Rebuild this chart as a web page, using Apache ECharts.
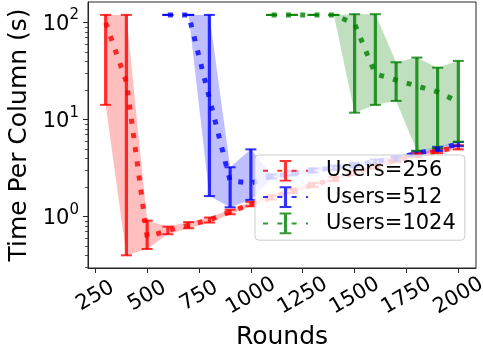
<!DOCTYPE html>
<html>
<head>
<meta charset="utf-8">
<script src="https://cdn.jsdelivr.net/npm/echarts@6/dist/echarts.min.js"></script>
<style>
  html, body { margin: 0; padding: 0; background: #ffffff; }
  #chart { width: 483px; height: 354px; }
</style>
</head>
<body>
<div id="chart"></div>
<script>
// Users = 256
const rounds256 = [300, 400, 500, 600, 700, 800, 900, 1000, 1100, 1200, 1300, 1400, 1500, 1600, 1700, 1800, 1900, 2000];
const mean256   = [100, 24.5, 0.62, 0.72, 0.82, 0.925, 1.12, 1.35, 1.58, 1.84, 2.12, 2.45, 2.85, 3.3, 3.84, 4.3, 4.75, 5.2];
const low256    = [14.2, 0.40, 0.465, 0.66, 0.76, 0.87, 1.06, 1.28, 1.5, 1.75, 2.02, 2.33, 2.71, 3.14, 3.65, 4.09, 4.51, 4.94];
const high256   = [120, 120, 0.91, 0.79, 0.88, 0.98, 1.18, 1.42, 1.66, 1.93, 2.23, 2.57, 2.99, 3.47, 4.03, 4.52, 4.99, 5.46];

// Users = 512
const rounds512 = [600, 700, 800, 900, 1000, 1100, 1200, 1300, 1400, 1500, 1600, 1700, 1800, 1900, 2000];
const mean512   = [120, 120, 16.7, 2.33, 2.22, 2.6, 2.8, 3.0, 3.2, 3.4, 3.7, 4.0, 4.5, 5.0, 5.6];
const low512    = [120, 120, 1.63, 1.25, 1.49, 2.47, 2.66, 2.85, 3.04, 3.23, 3.52, 3.8, 4.28, 4.75, 5.32];
const high512   = [120, 120, 120, 3.23, 4.94, 2.73, 2.94, 3.15, 3.36, 3.57, 3.89, 4.2, 4.73, 5.25, 5.88];

// Users = 1024
const rounds1024 = [1100, 1200, 1300, 1400, 1500, 1600, 1700, 1800, 1900, 2000];
const mean1024   = [120, 120, 120, 120, 97, 29.6, 25.6, 22.2, 19.3, 15.3];
const low1024    = [120, 120, 120, 120, 11.8, 14.2, 15.6, 4.78, 5.07, 5.93];
const high1024   = [120, 120, 120, 120, 122, 122, 39, 43.6, 34.3, 40.3];

const seriesNames = ['Users=256', 'Users=512', 'Users=1024'];

// Axis ticks
const xTicks = [250, 500, 750, 1000, 1250, 1500, 1750, 2000];
const yTicks = [1, 10, 100];
const yMinorTicks = [0.3, 0.4, 0.5, 0.6, 0.7, 0.8, 0.9, 2, 3, 4, 5, 6, 7, 8, 9, 20, 30, 40, 50, 60, 70, 80, 90];

const X_MIN = 215, X_MAX = 2085;
const Y_MIN = 0.296, Y_MAX = 163;

const FONT = 'DejaVu Sans';
const INK = '#262626';

// Error-bar glyph used as the legend marker (22x22 box, bar in the middle)
const BAR_GLYPH = 'path://M0,0 M22,22 M5,0 H17 V2 H12.6 V20 H17 V22 H5 V20 H9.4 V2 H5 Z';

function bandRenderer(xs, lo, hi, fill) {
  return function (params, api) {
    if (params.dataIndex !== 0) return null;
    const pts = [];
    for (let i = 0; i < xs.length; i++) pts.push(api.coord([xs[i], hi[i]]));
    for (let i = xs.length - 1; i >= 0; i--) pts.push(api.coord([xs[i], lo[i]]));
    return { type: 'polygon', shape: { points: pts }, style: { fill: fill } };
  };
}

function errorBarRenderer(color) {
  return function (params, api) {
    const x = api.value(0);
    const a = api.coord([x, api.value(1)]);
    const b = api.coord([x, api.value(2)]);
    const cap = 5.5;
    return {
      type: 'group',
      children: [
        { type: 'line', shape: { x1: a[0], y1: a[1], x2: b[0], y2: b[1] }, style: { stroke: color, lineWidth: 3.2 } },
        { type: 'line', shape: { x1: b[0] - cap, y1: b[1], x2: b[0] + cap, y2: b[1] }, style: { stroke: color, lineWidth: 2 } },
        { type: 'line', shape: { x1: a[0] - cap, y1: a[1], x2: a[0] + cap, y2: a[1] }, style: { stroke: color, lineWidth: 2 } }
      ]
    };
  };
}

function groupSeries(name, xs, mean, lo, hi, color, fill) {
  const rows = xs.map((r, i) => [r, lo[i], hi[i]]);
  return [
    {
      name: name + ' band', type: 'custom', silent: true,
      renderItem: bandRenderer(xs, lo, hi, fill),
      encode: { x: 0, y: [1, 2] }, data: rows
    },
    {
      name: name + ' spread', type: 'custom', silent: true,
      renderItem: errorBarRenderer(color),
      encode: { x: 0, y: [1, 2] }, data: rows
    },
    {
      name: name, type: 'line', silent: true,
      data: xs.map((r, i) => [r, mean[i]]),
      showSymbol: false, symbol: BAR_GLYPH,
      itemStyle: { color: color },
      lineStyle: { color: color, width: 5, type: [5, 9.3] }
    }
  ];
}

const chart = echarts.init(document.getElementById('chart'), null, { renderer: 'canvas' });

chart.setOption({
  animation: false,
  backgroundColor: '#ffffff',
  textStyle: { fontFamily: FONT },
  grid: {
    left: 88, top: 2, right: 7, bottom: 86,
    show: true, borderColor: INK, borderWidth: 1, backgroundColor: 'transparent',
    outerBoundsMode: 'none', containLabel: false
  },
  xAxis: {
    type: 'value', min: X_MIN, max: X_MAX,
    name: 'Rounds', nameLocation: 'middle', nameGap: 55,
    nameTextStyle: { fontSize: 25, color: '#000', fontFamily: FONT },
    axisLine: { show: true, lineStyle: { color: INK, width: 1 } },
    axisTick: { show: true, customValues: xTicks, length: 5, lineStyle: { color: INK, width: 1 } },
    axisLabel: {
      customValues: xTicks, rotate: 30, align: 'center', verticalAlign: 'middle',
      margin: 28, fontSize: 21, color: '#000', fontFamily: FONT,
      formatter: v => String(v)
    },
    splitLine: { show: false }
  },
  yAxis: [
    {
      type: 'log', min: Y_MIN, max: Y_MAX, logBase: 10,
      name: 'Time Per Column (s)', nameLocation: 'middle', nameGap: 50,
      nameTextStyle: { fontSize: 25, color: '#000', fontFamily: FONT },
      axisLine: { show: true, lineStyle: { color: INK, width: 1 } },
      axisTick: { show: true, customValues: yTicks, length: 5, lineStyle: { color: INK, width: 1 } },
      axisLabel: {
        customValues: yTicks, margin: 9, color: '#000', fontFamily: FONT,
        formatter: v => '{b|10}{s|' + Math.round(Math.log10(v)) + '}',
        rich: {
          b: { fontSize: 21, color: '#000', fontFamily: FONT, padding: [3, 0, 0, 0] },
          s: { fontSize: 15, color: '#000', fontFamily: FONT, padding: [0, 0, 14, 0] }
        }
      },
      splitLine: { show: false }
    },
    {
      type: 'log', min: Y_MIN, max: Y_MAX, logBase: 10, position: 'left',
      axisLine: { show: false },
      axisTick: { show: true, customValues: yMinorTicks, length: 3, lineStyle: { color: INK, width: 0.8 } },
      axisLabel: { show: false },
      splitLine: { show: false }
    }
  ],
  legend: {
    left: 255, top: 155, orient: 'vertical',
    padding: [5, 9, 6, 7],
    itemWidth: 45, itemHeight: 27, itemGap: 4.7,
    backgroundColor: 'rgba(255,255,255,0.8)',
    borderColor: '#cccccc', borderWidth: 1, borderRadius: 4,
    selectedMode: false,
    textStyle: { fontSize: 21, color: '#000', fontFamily: FONT, padding: [0, 0, 0, 13] },
    data: seriesNames
  },
  series: [
    ...groupSeries(seriesNames[0], rounds256, mean256, low256, high256, 'rgba(255,0,0,0.8)', 'rgba(255,0,0,0.25)'),
    ...groupSeries(seriesNames[1], rounds512, mean512, low512, high512, 'rgba(0,0,255,0.8)', 'rgba(0,0,255,0.25)'),
    ...groupSeries(seriesNames[2], rounds1024, mean1024, low1024, high1024, 'rgba(0,128,0,0.8)', 'rgba(0,128,0,0.25)')
  ]
});
</script>
</body>
</html>
